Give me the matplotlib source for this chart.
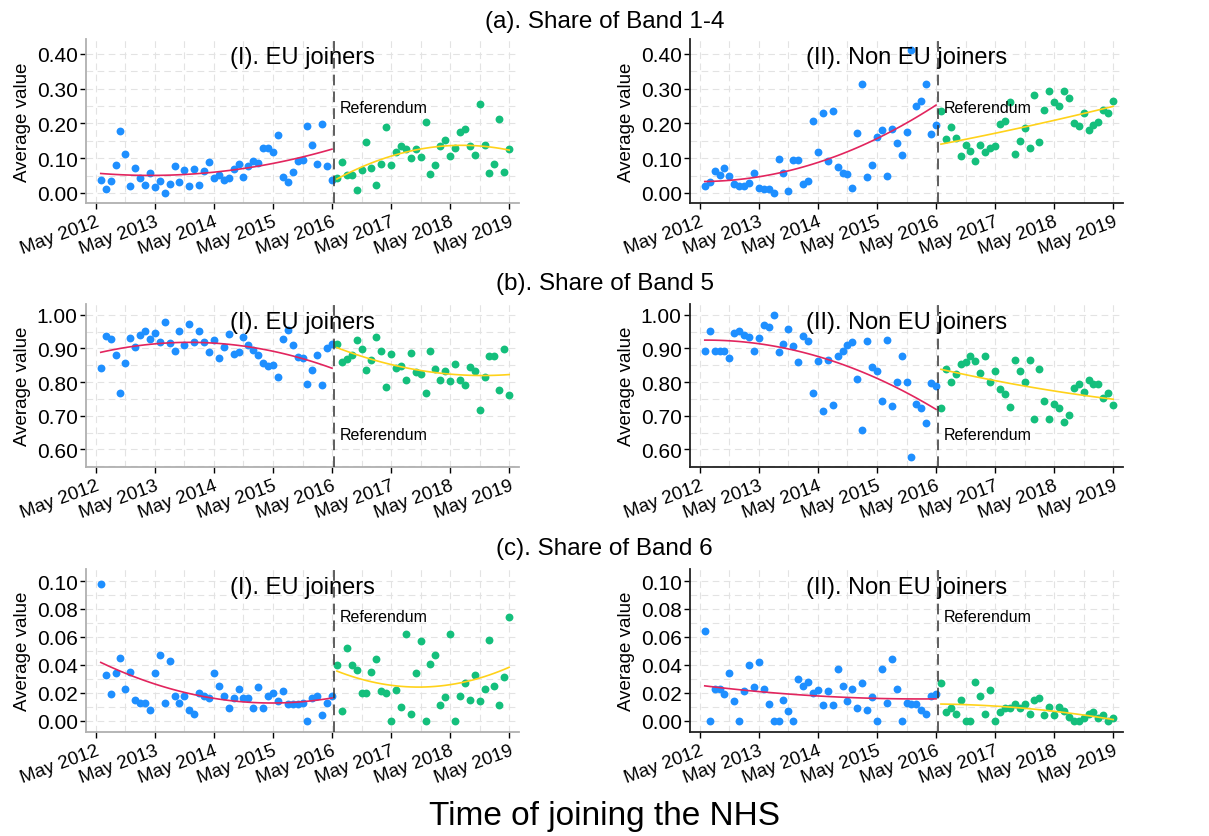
import numpy as np
import matplotlib.pyplot as plt
from matplotlib.ticker import MultipleLocator, FormatStrFormatter

plt.rcParams['font.family'] = ['Liberation Sans', 'DejaVu Sans']

# month index: 0 = May 2012, 84 = May 2019
months_pre = np.arange(1, 49)
months_post = np.arange(49, 85)
tick_pos = np.arange(0, 85, 12)
tick_labels = ['May 2012', 'May 2013', 'May 2014', 'May 2015',
               'May 2016', 'May 2017', 'May 2018', 'May 2019']
referendum = 48.4

# (a) share of band 1-4
a_eu_pre = [0.037, 0.010, 0.035, 0.080, 0.177, 0.113, 0.021, 0.073, 0.042, 0.024,
            0.058, 0.018, 0.035, 0.000, 0.025, 0.078, 0.031, 0.065, 0.021, 0.070,
            0.022, 0.062, 0.088, 0.042, 0.052, 0.037, 0.043, 0.070, 0.083, 0.045,
            0.077, 0.092, 0.085, 0.128, 0.130, 0.117, 0.167, 0.047, 0.032, 0.061,
            0.091, 0.095, 0.194, 0.139, 0.084, 0.199, 0.078, 0.037]
a_eu_post = [0.044, 0.089, 0.053, 0.053, 0.007, 0.067, 0.146, 0.071, 0.024, 0.082,
             0.189, 0.079, 0.117, 0.134, 0.125, 0.100, 0.127, 0.104, 0.203, 0.054,
             0.081, 0.136, 0.153, 0.106, 0.128, 0.176, 0.183, 0.136, 0.108, 0.257,
             0.137, 0.057, 0.084, 0.213, 0.061, 0.127]
a_non_pre = [0.021, 0.032, 0.064, 0.053, 0.073, 0.050, 0.027, 0.019, 0.019, 0.029,
             0.058, 0.014, 0.012, 0.012, 0.000, 0.098, 0.058, 0.006, 0.094, 0.095,
             0.025, 0.033, 0.206, 0.117, 0.231, 0.092, 0.237, 0.076, 0.058, 0.055,
             0.014, 0.172, 0.313, 0.047, 0.080, 0.161, 0.182, 0.050, 0.184, 0.145,
             0.109, 0.176, 0.411, 0.249, 0.265, 0.314, 0.169, 0.195]
a_non_post = [0.237, 0.154, 0.191, 0.158, 0.105, 0.137, 0.121, 0.093, 0.137, 0.117,
              0.130, 0.134, 0.197, 0.208, 0.261, 0.111, 0.150, 0.186, 0.129, 0.283,
              0.146, 0.239, 0.294, 0.262, 0.249, 0.294, 0.273, 0.200, 0.194, 0.229,
              0.180, 0.195, 0.203, 0.240, 0.231, 0.266]

# (b) share of band 5
b_eu_pre = [0.843, 0.938, 0.928, 0.880, 0.768, 0.857, 0.931, 0.903, 0.939, 0.951,
            0.927, 0.945, 0.919, 0.979, 0.917, 0.892, 0.951, 0.911, 0.973, 0.919,
            0.953, 0.920, 0.889, 0.925, 0.872, 0.903, 0.944, 0.883, 0.890, 0.934,
            0.911, 0.895, 0.880, 0.858, 0.847, 0.850, 0.816, 0.928, 0.954, 0.909,
            0.875, 0.873, 0.795, 0.836, 0.881, 0.790, 0.900, 0.914]
b_eu_post = [0.912, 0.861, 0.869, 0.880, 0.924, 0.898, 0.835, 0.866, 0.934, 0.891,
             0.785, 0.885, 0.843, 0.847, 0.806, 0.886, 0.829, 0.825, 0.768, 0.891,
             0.838, 0.806, 0.833, 0.803, 0.855, 0.807, 0.790, 0.845, 0.834, 0.716,
             0.816, 0.878, 0.879, 0.777, 0.897, 0.763]
b_non_pre = [0.893, 0.953, 0.891, 0.891, 0.891, 0.873, 0.947, 0.951, 0.939, 0.933,
             0.893, 0.931, 0.969, 0.965, 1.000, 0.889, 0.912, 0.958, 0.907, 0.859,
             0.936, 0.923, 0.768, 0.863, 0.715, 0.866, 0.731, 0.878, 0.893, 0.911,
             0.918, 0.810, 0.658, 0.921, 0.845, 0.832, 0.745, 0.925, 0.728, 0.801,
             0.877, 0.801, 0.577, 0.734, 0.722, 0.680, 0.796, 0.789]
b_non_post = [0.722, 0.840, 0.799, 0.825, 0.855, 0.859, 0.878, 0.863, 0.826, 0.878,
              0.800, 0.832, 0.779, 0.766, 0.726, 0.866, 0.832, 0.801, 0.867, 0.692,
              0.839, 0.744, 0.691, 0.736, 0.722, 0.683, 0.702, 0.783, 0.795, 0.770,
              0.806, 0.795, 0.795, 0.754, 0.767, 0.731]

# (c) share of band 6
c_eu_pre = [0.098, 0.033, 0.019, 0.034, 0.045, 0.023, 0.035, 0.015, 0.013, 0.013,
            0.008, 0.034, 0.047, 0.013, 0.043, 0.018, 0.013, 0.018, 0.008, 0.005,
            0.020, 0.018, 0.016, 0.034, 0.025, 0.018, 0.009, 0.016, 0.023, 0.016,
            0.016, 0.009, 0.024, 0.009, 0.018, 0.020, 0.014, 0.021, 0.012, 0.012,
            0.012, 0.013, 0.000, 0.016, 0.018, 0.0045, 0.013, 0.018]
c_eu_post = [0.040, 0.007, 0.052, 0.040, 0.036, 0.020, 0.020, 0.035, 0.044, 0.021,
             0.020, 0.000, 0.022, 0.010, 0.062, 0.005, 0.034, 0.057, 0.000, 0.041,
             0.047, 0.011, 0.017, 0.062, 0.000, 0.018, 0.027, 0.015, 0.033, 0.014,
             0.023, 0.058, 0.025, 0.011, 0.031, 0.074]
c_non_pre = [0.064, 0.000, 0.023, 0.023, 0.019, 0.034, 0.014, 0.000, 0.021, 0.040,
             0.024, 0.042, 0.023, 0.012, 0.000, 0.000, 0.015, 0.007, 0.000, 0.030,
             0.025, 0.028, 0.020, 0.022, 0.011, 0.021, 0.011, 0.037, 0.025, 0.014,
             0.023, 0.009, 0.027, 0.008, 0.017, 0.000, 0.037, 0.013, 0.044, 0.023,
             0.000, 0.013, 0.012, 0.012, 0.008, 0.005, 0.018, 0.019]
c_non_post = [0.027, 0.006, 0.009, 0.005, 0.015, 0.000, 0.000, 0.028, 0.018, 0.005,
              0.022, 0.000, 0.006, 0.009, 0.009, 0.012, 0.009, 0.012, 0.005, 0.015,
              0.016, 0.004, 0.010, 0.004, 0.010, 0.007, 0.003, 0.000, 0.000, 0.002,
              0.005, 0.006, 0.002, 0.004, 0.000, 0.002]

rows = [
    ('(a). Share of Band 1-4', (a_eu_pre, a_eu_post), (a_non_pre, a_non_post),
     (-0.029, 0.443), 0.1, 0.05, 0.245),
    ('(b). Share of Band 5', (b_eu_pre, b_eu_post), (b_non_pre, b_non_post),
     (0.548, 1.032), 0.1, 0.05, 0.644),
    ('(c). Share of Band 6', (c_eu_pre, c_eu_post), (c_non_pre, c_non_post),
     (-0.008, 0.1086), 0.02, 0.01, 0.0748),
]

blue = '#1E8FFF'
green = '#14BF7C'
red = '#E2255E'
yellow = '#FFD21A'

fig = plt.figure(figsize=(12.09, 8.37), dpi=100)
W, H = 1209, 837
row_px = [(40, 204), (305, 468), (570, 733)]
title_px = [22, 284, 549]
col_px = [(86, 519), (690, 1123)]

for r, (rtitle, eu, non, ylim, major, minor, ref_y) in enumerate(rows):
    top, bot = row_px[r]
    fig.text(0.5, 1 - title_px[r] / H, rtitle, ha='center', va='center', fontsize=17.5)
    for c, (pre, post) in enumerate([eu, non]):
        left, right = col_px[c]
        ax = fig.add_axes([left / W, 1 - bot / H, (right - left) / W, (bot - top) / H])
        ax.set_xlim(-2, 86)
        ax.set_ylim(*ylim)

        ax.xaxis.set_major_locator(plt.FixedLocator(tick_pos))
        ax.xaxis.set_minor_locator(plt.FixedLocator(tick_pos[:-1] + 6))
        ax.yaxis.set_major_locator(MultipleLocator(major))
        ax.yaxis.set_minor_locator(MultipleLocator(minor))
        ax.yaxis.set_major_formatter(FormatStrFormatter('%.2f'))
        ax.set_xticklabels(tick_labels, rotation=20, ha='right',
                           rotation_mode='anchor', fontsize=13.5)
        ax.tick_params(axis='y', labelsize=15, length=4, width=1, pad=2)
        ax.tick_params(axis='x', length=4, width=1, pad=3)
        ax.tick_params(which='minor', length=0)
        ax.grid(which='both', linestyle=(0, (6, 4)), color='#e3e3e3', linewidth=0.8)
        ax.set_axisbelow(True)

        for s in ['top', 'right']:
            ax.spines[s].set_visible(False)
        spine_col = '#b0b0b0' if c == 0 else '#222222'
        for s in ['left', 'bottom']:
            ax.spines[s].set_color(spine_col)
            ax.spines[s].set_linewidth(1.3)

        ax.scatter(months_pre, pre, s=32, color=blue, linewidths=0, zorder=3)
        ax.scatter(months_post, post, s=32, color=green, linewidths=0, zorder=3)

        # quadratic fits on each side of the referendum
        fit_pre = np.polyval(np.polyfit(months_pre, pre, 2), months_pre)
        fit_post = np.polyval(np.polyfit(months_post, post, 2), months_post)
        ax.plot(months_pre, fit_pre, color=red, lw=1.2, zorder=4)
        ax.plot(months_post, fit_post, color=yellow, lw=1.2, zorder=4)

        ax.axvline(referendum, color='#333333', lw=1.1, linestyle=(0, (7, 4)), zorder=5)
        ax.text(referendum + 1.1, ref_y, 'Referendum', fontsize=11.5, va='center', ha='left')

        ax.text(0.5, 0.89, '(I). EU joiners' if c == 0 else '(II). Non EU joiners',
                transform=ax.transAxes, ha='center', va='center', fontsize=17)
        ax.set_ylabel('Average value', fontsize=13.5, labelpad=4)

fig.text(0.5, 1 - 817 / H, 'Time of joining the NHS', ha='center', va='center', fontsize=24)

fig.savefig('out.png', dpi=100)
